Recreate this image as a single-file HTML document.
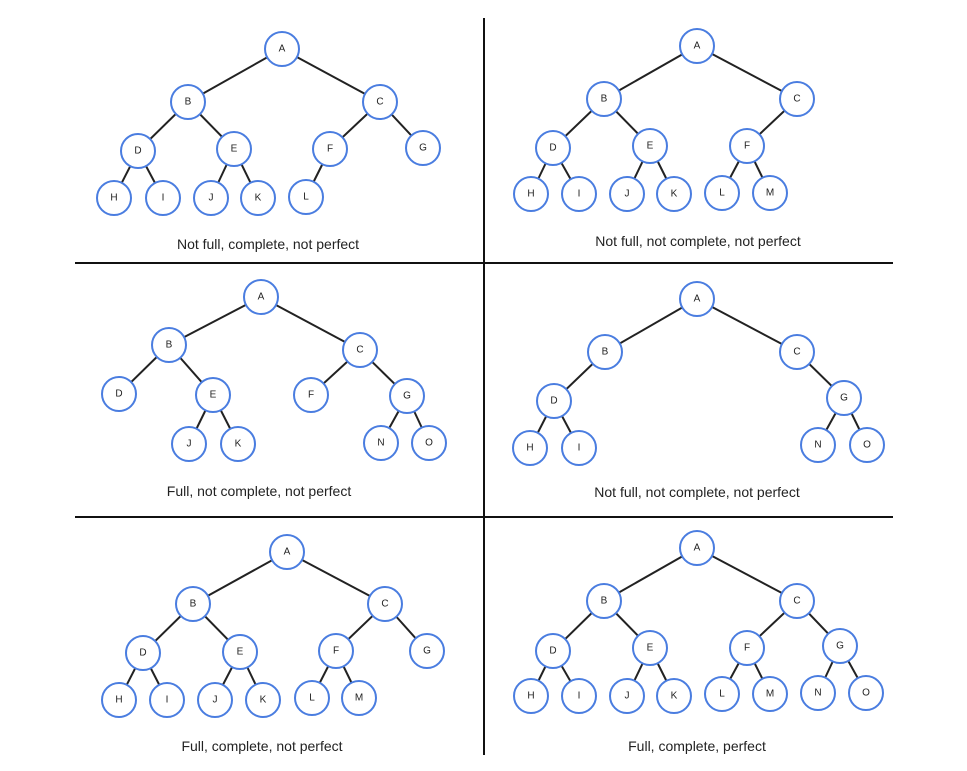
<!DOCTYPE html>
<html><head><meta charset="utf-8"><style>
html,body{margin:0;padding:0;background:#fff;}
svg{display:block;}
.e line{stroke:#222;stroke-width:2;}
.n circle{fill:#fff;stroke:#4a7de0;stroke-width:2;}
.n text{font-family:"Liberation Sans",sans-serif;font-size:10px;fill:#222;text-anchor:middle;dominant-baseline:central;}
.lbl{font-family:"Liberation Sans",sans-serif;font-size:14px;fill:#222;text-anchor:middle;}
</style></head><body>
<svg width="967" height="771" viewBox="0 0 967 771" xmlns="http://www.w3.org/2000/svg">
<g stroke="#111" stroke-width="2">
<line x1="484" y1="18" x2="484" y2="755"/>
<line x1="75" y1="263" x2="893" y2="263"/>
<line x1="75" y1="517" x2="893" y2="517"/>
</g>

<!-- Panel 1 -->
<g class="e">
<line x1="282" y1="49" x2="188" y2="102"/><line x1="282" y1="49" x2="380" y2="102"/>
<line x1="188" y1="102" x2="138" y2="151"/><line x1="188" y1="102" x2="234" y2="149"/>
<line x1="380" y1="102" x2="330" y2="149"/><line x1="380" y1="102" x2="423" y2="148"/>
<line x1="138" y1="151" x2="114" y2="198"/><line x1="138" y1="151" x2="163" y2="198"/>
<line x1="234" y1="149" x2="211" y2="198"/><line x1="234" y1="149" x2="258" y2="198"/>
<line x1="330" y1="149" x2="306" y2="197"/>
</g>
<g class="n">
<circle cx="282" cy="49" r="17"/><text x="282" y="49">A</text>
<circle cx="188" cy="102" r="17"/><text x="188" y="102">B</text>
<circle cx="380" cy="102" r="17"/><text x="380" y="102">C</text>
<circle cx="138" cy="151" r="17"/><text x="138" y="151">D</text>
<circle cx="234" cy="149" r="17"/><text x="234" y="149">E</text>
<circle cx="330" cy="149" r="17"/><text x="330" y="149">F</text>
<circle cx="423" cy="148" r="17"/><text x="423" y="148">G</text>
<circle cx="114" cy="198" r="17"/><text x="114" y="198">H</text>
<circle cx="163" cy="198" r="17"/><text x="163" y="198">I</text>
<circle cx="211" cy="198" r="17"/><text x="211" y="198">J</text>
<circle cx="258" cy="198" r="17"/><text x="258" y="198">K</text>
<circle cx="306" cy="197" r="17"/><text x="306" y="197">L</text>
</g>
<text class="lbl" x="268" y="249">Not full, complete, not perfect</text>

<!-- Panel 2 -->
<g class="e">
<line x1="697" y1="46" x2="604" y2="99"/><line x1="697" y1="46" x2="797" y2="99"/>
<line x1="604" y1="99" x2="553" y2="148"/><line x1="604" y1="99" x2="650" y2="146"/>
<line x1="797" y1="99" x2="747" y2="146"/>
<line x1="553" y1="148" x2="531" y2="194"/><line x1="553" y1="148" x2="579" y2="194"/>
<line x1="650" y1="146" x2="627" y2="194"/><line x1="650" y1="146" x2="674" y2="194"/>
<line x1="747" y1="146" x2="722" y2="193"/><line x1="747" y1="146" x2="770" y2="193"/>
</g>
<g class="n">
<circle cx="697" cy="46" r="17"/><text x="697" y="46">A</text>
<circle cx="604" cy="99" r="17"/><text x="604" y="99">B</text>
<circle cx="797" cy="99" r="17"/><text x="797" y="99">C</text>
<circle cx="553" cy="148" r="17"/><text x="553" y="148">D</text>
<circle cx="650" cy="146" r="17"/><text x="650" y="146">E</text>
<circle cx="747" cy="146" r="17"/><text x="747" y="146">F</text>
<circle cx="531" cy="194" r="17"/><text x="531" y="194">H</text>
<circle cx="579" cy="194" r="17"/><text x="579" y="194">I</text>
<circle cx="627" cy="194" r="17"/><text x="627" y="194">J</text>
<circle cx="674" cy="194" r="17"/><text x="674" y="194">K</text>
<circle cx="722" cy="193" r="17"/><text x="722" y="193">L</text>
<circle cx="770" cy="193" r="17"/><text x="770" y="193">M</text>
</g>
<text class="lbl" x="698" y="246">Not full, not complete, not perfect</text>

<!-- Panel 3 -->
<g class="e">
<line x1="261" y1="297" x2="169" y2="345"/><line x1="261" y1="297" x2="360" y2="350"/>
<line x1="169" y1="345" x2="119" y2="394"/><line x1="169" y1="345" x2="213" y2="395"/>
<line x1="360" y1="350" x2="311" y2="395"/><line x1="360" y1="350" x2="407" y2="396"/>
<line x1="213" y1="395" x2="189" y2="444"/><line x1="213" y1="395" x2="238" y2="444"/>
<line x1="407" y1="396" x2="381" y2="443"/><line x1="407" y1="396" x2="429" y2="443"/>
</g>
<g class="n">
<circle cx="261" cy="297" r="17"/><text x="261" y="297">A</text>
<circle cx="169" cy="345" r="17"/><text x="169" y="345">B</text>
<circle cx="360" cy="350" r="17"/><text x="360" y="350">C</text>
<circle cx="119" cy="394" r="17"/><text x="119" y="394">D</text>
<circle cx="213" cy="395" r="17"/><text x="213" y="395">E</text>
<circle cx="311" cy="395" r="17"/><text x="311" y="395">F</text>
<circle cx="407" cy="396" r="17"/><text x="407" y="396">G</text>
<circle cx="189" cy="444" r="17"/><text x="189" y="444">J</text>
<circle cx="238" cy="444" r="17"/><text x="238" y="444">K</text>
<circle cx="381" cy="443" r="17"/><text x="381" y="443">N</text>
<circle cx="429" cy="443" r="17"/><text x="429" y="443">O</text>
</g>
<text class="lbl" x="259" y="496">Full, not complete, not perfect</text>

<!-- Panel 4 -->
<g class="e">
<line x1="697" y1="299" x2="605" y2="352"/><line x1="697" y1="299" x2="797" y2="352"/>
<line x1="605" y1="352" x2="554" y2="401"/>
<line x1="797" y1="352" x2="844" y2="398"/>
<line x1="554" y1="401" x2="530" y2="448"/><line x1="554" y1="401" x2="579" y2="448"/>
<line x1="844" y1="398" x2="818" y2="445"/><line x1="844" y1="398" x2="867" y2="445"/>
</g>
<g class="n">
<circle cx="697" cy="299" r="17"/><text x="697" y="299">A</text>
<circle cx="605" cy="352" r="17"/><text x="605" y="352">B</text>
<circle cx="797" cy="352" r="17"/><text x="797" y="352">C</text>
<circle cx="554" cy="401" r="17"/><text x="554" y="401">D</text>
<circle cx="844" cy="398" r="17"/><text x="844" y="398">G</text>
<circle cx="530" cy="448" r="17"/><text x="530" y="448">H</text>
<circle cx="579" cy="448" r="17"/><text x="579" y="448">I</text>
<circle cx="818" cy="445" r="17"/><text x="818" y="445">N</text>
<circle cx="867" cy="445" r="17"/><text x="867" y="445">O</text>
</g>
<text class="lbl" x="697" y="497">Not full, not complete, not perfect</text>

<!-- Panel 5 -->
<g class="e">
<line x1="287" y1="552" x2="193" y2="604"/><line x1="287" y1="552" x2="385" y2="604"/>
<line x1="193" y1="604" x2="143" y2="653"/><line x1="193" y1="604" x2="240" y2="652"/>
<line x1="385" y1="604" x2="336" y2="651"/><line x1="385" y1="604" x2="427" y2="651"/>
<line x1="143" y1="653" x2="119" y2="700"/><line x1="143" y1="653" x2="167" y2="700"/>
<line x1="240" y1="652" x2="215" y2="700"/><line x1="240" y1="652" x2="263" y2="700"/>
<line x1="336" y1="651" x2="312" y2="698"/><line x1="336" y1="651" x2="359" y2="698"/>
</g>
<g class="n">
<circle cx="287" cy="552" r="17"/><text x="287" y="552">A</text>
<circle cx="193" cy="604" r="17"/><text x="193" y="604">B</text>
<circle cx="385" cy="604" r="17"/><text x="385" y="604">C</text>
<circle cx="143" cy="653" r="17"/><text x="143" y="653">D</text>
<circle cx="240" cy="652" r="17"/><text x="240" y="652">E</text>
<circle cx="336" cy="651" r="17"/><text x="336" y="651">F</text>
<circle cx="427" cy="651" r="17"/><text x="427" y="651">G</text>
<circle cx="119" cy="700" r="17"/><text x="119" y="700">H</text>
<circle cx="167" cy="700" r="17"/><text x="167" y="700">I</text>
<circle cx="215" cy="700" r="17"/><text x="215" y="700">J</text>
<circle cx="263" cy="700" r="17"/><text x="263" y="700">K</text>
<circle cx="312" cy="698" r="17"/><text x="312" y="698">L</text>
<circle cx="359" cy="698" r="17"/><text x="359" y="698">M</text>
</g>
<text class="lbl" x="262" y="751">Full, complete, not perfect</text>

<!-- Panel 6 -->
<g class="e">
<line x1="697" y1="548" x2="604" y2="601"/><line x1="697" y1="548" x2="797" y2="601"/>
<line x1="604" y1="601" x2="553" y2="651"/><line x1="604" y1="601" x2="650" y2="648"/>
<line x1="797" y1="601" x2="747" y2="648"/><line x1="797" y1="601" x2="840" y2="646"/>
<line x1="553" y1="651" x2="531" y2="696"/><line x1="553" y1="651" x2="579" y2="696"/>
<line x1="650" y1="648" x2="627" y2="696"/><line x1="650" y1="648" x2="674" y2="696"/>
<line x1="747" y1="648" x2="722" y2="694"/><line x1="747" y1="648" x2="770" y2="694"/>
<line x1="840" y1="646" x2="818" y2="693"/><line x1="840" y1="646" x2="866" y2="693"/>
</g>
<g class="n">
<circle cx="697" cy="548" r="17"/><text x="697" y="548">A</text>
<circle cx="604" cy="601" r="17"/><text x="604" y="601">B</text>
<circle cx="797" cy="601" r="17"/><text x="797" y="601">C</text>
<circle cx="553" cy="651" r="17"/><text x="553" y="651">D</text>
<circle cx="650" cy="648" r="17"/><text x="650" y="648">E</text>
<circle cx="747" cy="648" r="17"/><text x="747" y="648">F</text>
<circle cx="840" cy="646" r="17"/><text x="840" y="646">G</text>
<circle cx="531" cy="696" r="17"/><text x="531" y="696">H</text>
<circle cx="579" cy="696" r="17"/><text x="579" y="696">I</text>
<circle cx="627" cy="696" r="17"/><text x="627" y="696">J</text>
<circle cx="674" cy="696" r="17"/><text x="674" y="696">K</text>
<circle cx="722" cy="694" r="17"/><text x="722" y="694">L</text>
<circle cx="770" cy="694" r="17"/><text x="770" y="694">M</text>
<circle cx="818" cy="693" r="17"/><text x="818" y="693">N</text>
<circle cx="866" cy="693" r="17"/><text x="866" y="693">O</text>
</g>
<text class="lbl" x="697" y="751">Full, complete, perfect</text>
</svg>
</body></html>
